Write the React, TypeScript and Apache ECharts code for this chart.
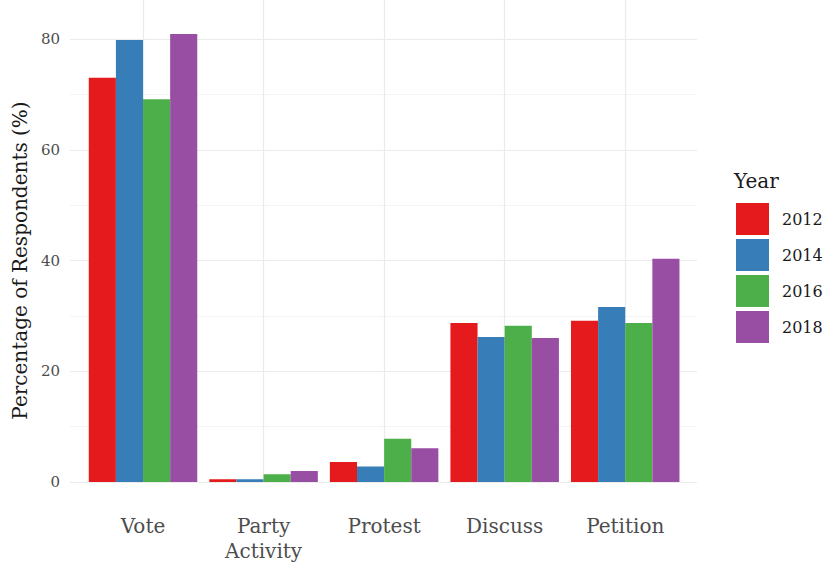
import React, { useEffect, useRef } from "react";
import * as echarts from "echarts";

const categories = ["Vote", "Party\nActivity", "Protest", "Discuss", "Petition"];
const years = ["2012", "2014", "2016", "2018"];
const v2012 = [73.0, 0.5, 3.6, 28.7, 29.1];
const v2014 = [79.8, 0.5, 2.8, 26.2, 31.6];
const v2016 = [69.1, 1.4, 7.8, 28.2, 28.7];
const v2018 = [80.9, 2.0, 6.1, 26.0, 40.3];
const yTicks = [0, 20, 40, 60, 80];

const colors = ["#E41A1C", "#377EB8", "#4DAF4A", "#984EA3"];
const FONT = "DejaVu Serif";

export default function App() {
  const ref = useRef<HTMLDivElement>(null);
  useEffect(() => {
    if (!ref.current) return;
    const chart = echarts.init(ref.current, null, { renderer: "svg" });
    const seriesValues = [v2012, v2014, v2016, v2018];
    chart.setOption({
      animation: false,
      color: colors,
      textStyle: { fontFamily: FONT },
      title: {
        text: "Year",
        left: 729,
        top: 166,
        textStyle: { fontFamily: FONT, fontSize: 20, fontWeight: "normal", color: "#1a1a1a" },
      },
      legend: {
        data: years,
        orient: "vertical",
        left: 731,
        top: 198,
        itemWidth: 33,
        itemHeight: 32,
        itemGap: 4,
        icon: "rect",
        textStyle: { fontFamily: FONT, fontSize: 16, color: "#1a1a1a", padding: [0, 0, 0, 8] },
      },
      grid: [
        { left: 82.75, width: 602.75, top: 39, height: 443 },
        { left: 70, width: 627, top: 39, height: 443 },
      ],
      xAxis: [
        {
          type: "category",
          gridIndex: 0,
          data: categories,
          offset: 22,
          axisLine: { show: false },
          axisTick: {
            show: true,
            alignWithLabel: true,
            inside: true,
            length: 493,
            lineStyle: { color: "#ebebeb", width: 1.2 },
          },
          axisLabel: {
            margin: 9,
            fontFamily: FONT,
            fontSize: 20,
            color: "#4d4d4d",
            lineHeight: 25,
            interval: 0,
          },
          splitLine: { show: false },
        },
        { type: "value", gridIndex: 1, min: 0, max: 1, show: false },
      ],
      yAxis: [
        { type: "value", gridIndex: 0, min: 0, max: 80, show: false },
        {
          type: "value",
          gridIndex: 1,
          min: yTicks[0],
          max: yTicks[yTicks.length - 1],
          interval: 20,
          name: "Percentage of Respondents (%)",
          nameLocation: "middle",
          nameGap: 38,
          nameTextStyle: { fontFamily: FONT, fontSize: 20, color: "#1a1a1a" },
          axisLine: { show: false },
          axisTick: { show: false },
          axisLabel: { margin: 10, fontFamily: FONT, fontSize: 15, color: "#4d4d4d" },
          splitLine: { show: true, lineStyle: { color: "#ebebeb", width: 1.2 } },
          minorTick: { show: false, splitNumber: 2 },
          minorSplitLine: { show: true, lineStyle: { color: "#f0f0f0", width: 0.8 } },
        },
      ],
      series: years.map((y, i) => ({
        name: y,
        type: "bar",
        xAxisIndex: 0,
        yAxisIndex: 0,
        data: seriesValues[i],
        barGap: "0%",
        barCategoryGap: "10%",
        clip: false,
        itemStyle: { color: colors[i] },
      })),
    });
    return () => chart.dispose();
  }, []);
  return (
    <div
      ref={ref}
      style={{ position: "absolute", left: 0, top: 0, width: 826, height: 563, background: "#fff" }}
    />
  );
}
